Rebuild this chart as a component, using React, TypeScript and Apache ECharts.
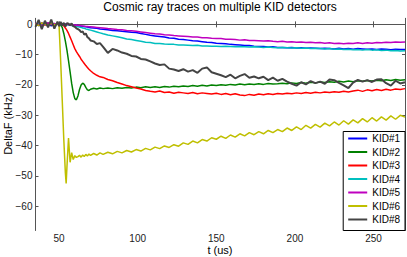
import React, { useEffect, useRef } from "react";
import * as echarts from "echarts";

const T = [
  35, 37, 39, 41, 43, 45, 47, 49,
  50, 51, 52, 53, 54, 54.5, 55, 56, 57, 58, 59, 60, 61, 62, 63, 64, 65, 66, 67, 68, 69, 70,
  72, 74, 76, 78,
  81, 84, 87, 90, 93, 96, 99, 102,
  105, 108, 111, 114, 117, 120, 123, 126,
  129, 132, 135, 138, 141, 144, 147, 150,
  153, 156, 159, 162, 165, 168, 171, 174,
  177, 180, 183, 186, 189, 192, 195, 198,
  201, 204, 207, 210, 213, 216, 219, 222,
  225, 228, 231, 234, 237, 240, 243, 246,
  249, 252, 255, 258, 261, 264, 267, 270,
];

const KID1 = [
  0.3, -0.4, 0.5, -0.2, 0.4, -0.5, 0.2, 0.1,
  0.3, 0.0, 0.2, -0.1, 0.1, 0.0, 0.2, -0.1, -0.2, -0.1, -0.3, -0.3, -0.4, -0.4, -0.5, -0.6, -0.7, -0.7, -0.8, -0.9, -1.0, -1.1,
  -1.2, -1.3, -1.5, -1.6,
  -1.8, -2.0, -2.1, -2.3, -2.4, -2.6, -2.7, -3.0,
  -3.3, -3.6, -3.8, -4.0, -4.2, -4.5, -4.6, -4.9,
  -5.0, -5.2, -5.4, -5.5, -5.7, -5.9, -6.0, -6.2,
  -6.3, -6.4, -6.6, -6.7, -6.8, -7.0, -7.0, -7.2,
  -7.3, -7.3, -7.5, -7.4, -7.6, -7.6, -7.7, -7.6,
  -7.8, -7.7, -7.9, -7.8, -7.9, -8.0, -7.9, -8.0,
  -8.1, -7.9, -8.1, -8.0, -8.2, -8.0, -8.1, -8.2,
  -8.1, -8.3, -8.1, -8.2, -8.4, -8.2, -8.3, -8.3,
];

const KID2 = [
  -0.2, 0.3, -0.3, 0.2, 0.4, -0.2, 0.1, 0.2,
  0.0, -0.2, -1.0, -3.0, -5.5, -7.0, -8.5, -12.0, -15.7, -19.5, -22.5, -24.5, -24.9, -23.6, -21.5, -20.0, -19.4, -19.8, -20.8, -21.6, -21.8, -21.4,
  -21.1, -21.3, -21.0, -21.2,
  -21.0, -21.2, -20.9, -21.1, -20.8, -21.0, -20.7, -20.9,
  -20.6, -20.8, -20.6, -20.8, -20.5, -20.7, -20.4, -20.6,
  -20.3, -20.5, -20.2, -20.4, -20.1, -20.3, -20.0, -20.2,
  -19.9, -20.1, -19.8, -20.0, -19.7, -19.9, -19.7, -19.8,
  -19.6, -19.8, -19.5, -19.7, -19.6, -19.4, -19.6, -19.3,
  -19.5, -19.2, -19.4, -19.1, -19.3, -19.0, -19.2, -18.9,
  -19.1, -18.8, -19.0, -18.7, -18.9, -18.6, -18.8, -18.5,
  -18.7, -18.4, -18.6, -18.3, -18.5, -18.2, -18.4, -18.3,
];

const KID3 = [
  0.2, -0.3, 0.4, -0.2, 0.3, 0.1, -0.3, 0.2,
  0.1, 0.0, 0.0, -0.5, -1.2, -1.6, -2.0, -3.0, -4.2, -5.4, -6.7, -8.0, -9.0, -9.8, -10.6, -11.5, -12.2, -12.9, -13.6, -14.2, -14.8, -15.3,
  -16.2, -16.8, -17.3, -17.5,
  -18.2, -18.6, -19.2, -19.7, -20.2, -20.6, -21.0, -21.3,
  -21.8, -22.1, -22.3, -22.0, -22.5, -22.3, -22.7, -22.4,
  -22.6, -22.8, -22.5, -22.9, -22.6, -22.8, -23.0, -22.7,
  -23.1, -22.8, -23.2, -22.9, -23.3, -23.5, -23.1, -23.4,
  -23.0, -23.2, -22.9, -23.1, -22.8, -23.0, -22.7, -22.9,
  -22.6, -22.8, -22.5, -22.7, -22.4, -22.6, -22.3, -22.5,
  -22.2, -22.4, -22.1, -22.3, -22.0, -21.7, -22.1, -21.6,
  -21.9, -21.5, -21.8, -21.4, -21.7, -21.3, -21.5, -21.2,
];

const KID4 = [
  -0.2, 0.3, -0.1, 0.4, -0.3, 0.2, 0.0, 0.3,
  0.1, -0.1, 0.2, 0.0, 0.1, 0.0, -0.1, -0.2, -0.3, -0.4, -0.5, -0.6, -0.7, -0.8, -0.9, -1.0, -1.2, -1.3, -1.5, -1.6, -1.8, -1.9,
  -2.2, -2.5, -2.8, -3.1,
  -3.5, -3.8, -4.1, -4.4, -4.8, -5.0, -5.3, -5.6,
  -5.9, -6.0, -6.3, -6.3, -6.5, -6.6, -6.6, -6.8,
  -6.8, -6.9, -7.0, -6.9, -7.1, -7.1, -7.2, -7.2,
  -7.3, -7.2, -7.3, -7.4, -7.3, -7.4, -7.5, -7.4,
  -7.5, -7.6, -7.5, -7.6, -7.7, -7.6, -7.7, -7.8,
  -7.7, -7.9, -7.8, -8.0, -7.9, -8.0, -8.1, -8.0,
  -8.2, -8.1, -8.3, -8.2, -8.4, -8.3, -8.5, -8.3,
  -8.5, -8.4, -8.6, -8.5, -8.7, -8.6, -8.8, -8.7,
];

const KID5 = [
  0.3, 0.0, -0.3, 0.2, 0.5, -0.1, 0.3, 0.0,
  0.2, 0.0, 0.1, -0.1, 0.1, 0.0, 0.0, -0.1, 0.0, -0.2, -0.1, -0.3, -0.2, -0.4, -0.3, -0.5, -0.5, -0.6, -0.7, -0.7, -0.8, -0.8,
  -0.9, -1.0, -1.1, -1.2,
  -1.4, -1.5, -1.7, -1.8, -2.0, -2.1, -2.3, -2.5,
  -2.7, -2.9, -3.1, -3.2, -3.4, -3.5, -3.7, -3.8,
  -3.9, -4.0, -4.2, -4.2, -4.4, -4.4, -4.6, -4.7,
  -4.7, -4.9, -4.9, -5.0, -5.2, -5.1, -5.3, -5.3,
  -5.4, -5.5, -5.4, -5.6, -5.7, -5.6, -5.8, -5.7,
  -5.9, -5.8, -6.0, -5.9, -6.1, -6.0, -6.2, -6.1,
  -6.3, -6.2, -6.4, -6.2, -6.3, -6.1, -6.3, -6.1,
  -6.2, -6.0, -6.1, -5.9, -6.0, -5.8, -5.9, -5.8,
];

const KID6 = [
  0.2, -0.4, 0.5, 0.0, -0.3, 0.4, -0.2, 0.3,
  -0.5, -12.0, -25.0, -38.0, -49.0, -52.5, -47.0, -37.5, -45.5, -42.3, -44.6, -43.3, -43.9, -43.6, -43.2, -43.8, -43.1, -43.6, -42.9, -43.4, -42.8, -43.2,
  -42.6, -43.1, -42.4, -42.9,
  -42.2, -42.7, -41.9, -42.4, -41.6, -42.1, -41.3, -41.8,
  -40.9, -41.4, -40.5, -41.0, -40.1, -40.6, -39.7, -40.2,
  -39.1, -39.6, -38.5, -39.1, -38.0, -38.5, -37.4, -37.9,
  -36.9, -37.6, -36.5, -37.2, -36.1, -36.8, -35.7, -36.4,
  -35.4, -36.1, -35.0, -35.7, -34.7, -35.4, -34.2, -35.0,
  -33.8, -34.7, -33.3, -34.2, -33.0, -33.9, -32.6, -33.5,
  -32.2, -33.2, -31.8, -32.9, -31.5, -32.5, -31.1, -32.2,
  -30.8, -31.9, -30.5, -31.6, -30.2, -31.3, -30.0, -30.6,
];

const KID8 = [
  -0.8, 1.5, -1.6, 1.2, -1.0, 1.6, -1.4, 0.9,
  -0.6, 0.8, -0.4, 0.5, -0.7, -0.2, 0.4, 0.2, -0.3, 0.3, -0.6, -0.8, -1.3, -1.6, -1.9, -2.6, -2.3, -3.4, -3.0, -4.2, -4.6, -5.3,
  -5.6, -6.5, -6.2, -7.4,
  -9.4, -8.1, -8.6, -9.3, -9.7, -10.4, -10.6, -11.4,
  -11.6, -12.2, -12.9, -13.4, -13.2, -14.6, -14.9, -15.4,
  -14.8, -15.6, -15.1, -16.0, -14.6, -14.2, -15.8, -16.3,
  -16.8, -17.4, -16.6, -17.8, -17.0, -16.4, -17.6, -17.2,
  -17.8, -17.3, -18.4, -17.6, -18.6, -18.0, -18.9, -19.6,
  -20.2, -19.1, -19.8, -18.7, -19.4, -18.9, -19.6, -18.2,
  -18.4, -19.3, -20.1, -21.0, -19.2, -18.3, -18.9, -18.4,
  -19.0, -18.2, -18.1, -19.4, -20.2, -18.6, -19.5, -19.1,
];

const NAMES = ["KID#1", "KID#2", "KID#3", "KID#4", "KID#5", "KID#6", "KID#8"];
const VALUES = [KID1, KID2, KID3, KID4, KID5, KID6, KID8];
const X_TICKS = [50, 100, 150, 200, 250];
const Y_TICKS = [0, -10, -20, -30, -40, -50, -60];

const COLORS = ["#0000ff", "#008000", "#ff0000", "#00bfbf", "#bf00bf", "#bfbf00", "#444444"];
const WIDTHS = [1.5, 1.5, 1.5, 1.5, 1.5, 1.5, 2];
const FONT = "'Liberation Sans', Arial, Helvetica, sans-serif";
const AXIS_COLOR = "#555555";

export default function App() {
  const ref = useRef<HTMLDivElement>(null);

  useEffect(() => {
    if (!ref.current) return;
    const chart = echarts.init(ref.current, null, { renderer: "svg" });

    const fmt = (v: number) => (v < 0 ? "\u2212" + Math.abs(v) : String(v));

    const baseX = {
      type: "value" as const,
      min: 35,
      max: 270,
      axisLine: { show: true, lineStyle: { color: AXIS_COLOR, width: 1 } },
      axisTick: { show: true, inside: true, length: 3, customValues: X_TICKS, lineStyle: { color: AXIS_COLOR } },
      splitLine: { show: false },
    };
    const baseY = {
      type: "value" as const,
      min: -68,
      max: 2,
      axisLine: { show: true, lineStyle: { color: AXIS_COLOR, width: 1 } },
      axisTick: { show: true, inside: true, length: 3, customValues: Y_TICKS, lineStyle: { color: AXIS_COLOR } },
      splitLine: { show: false },
    };

    chart.setOption({
      animation: false,
      backgroundColor: "#ffffff",
      textStyle: { fontFamily: FONT },
      grid: { left: 35.5, right: 2, top: 18.3, bottom: 26.5, containLabel: false },
      xAxis: [
        {
          ...baseX,
          position: "bottom",
          axisLabel: {
            show: true,
            customValues: X_TICKS,
            color: "#222",
            fontSize: 10,
            fontFamily: FONT,
            margin: 3,
          },
        },
        {
          ...baseX,
          position: "top",
          axisLabel: { show: false },
        },
      ],
      yAxis: [
        {
          ...baseY,
          position: "left",
          axisLabel: {
            show: true,
            customValues: Y_TICKS,
            color: "#222",
            fontSize: 10,
            fontFamily: FONT,
            margin: 3,
            formatter: fmt,
          },
        },
        {
          ...baseY,
          position: "right",
          axisLabel: { show: false },
        },
      ],
      legend: {
        orient: "vertical",
        right: 2,
        top: 131.5,
        padding: [1, 5, 5, 5],
        itemGap: 1.5,
        itemWidth: 19,
        itemHeight: 2,
        backgroundColor: "#ffffff",
        borderColor: "#000000",
        borderWidth: 1,
        borderRadius: 0,
        textStyle: { color: "#000", fontSize: 10, fontFamily: FONT, lineHeight: 12 },
        data: NAMES.map((n) => ({ name: n, icon: "rect" })),
      },
      graphic: [
        {
          type: "text",
          x: 220,
          y: 1,
          style: {
            text: "Cosmic ray traces on multiple KID detectors",
            fill: "#000",
            font: `12px ${FONT}`,
            textAlign: "center",
            textVerticalAlign: "top",
          },
        },
        {
          type: "text",
          x: 220,
          y: 250,
          style: {
            text: "t (us)",
            fill: "#000",
            font: `11px ${FONT}`,
            textAlign: "center",
            textVerticalAlign: "middle",
          },
        },
        {
          type: "text",
          x: 8,
          y: 124,
          rotation: Math.PI / 2,
          style: {
            text: "DeltaF (kHz)",
            fill: "#000",
            font: `11px ${FONT}`,
            textAlign: "center",
            textVerticalAlign: "middle",
          },
        },
      ],
      series: NAMES.map((name, i) => ({
        type: "line",
        name,
        xAxisIndex: 0,
        yAxisIndex: 0,
        data: T.map((t, j) => [t, VALUES[i][j]]),
        showSymbol: false,
        symbol: "none",
        lineStyle: { color: COLORS[i], width: WIDTHS[i] },
        itemStyle: { color: COLORS[i] },
        emphasis: { disabled: true },
      })),
    });

    return () => chart.dispose();
  }, []);

  return (
    <div
      ref={ref}
      style={{ position: "absolute", left: 0, top: 0, width: 407, height: 257 }}
    />
  );
}
